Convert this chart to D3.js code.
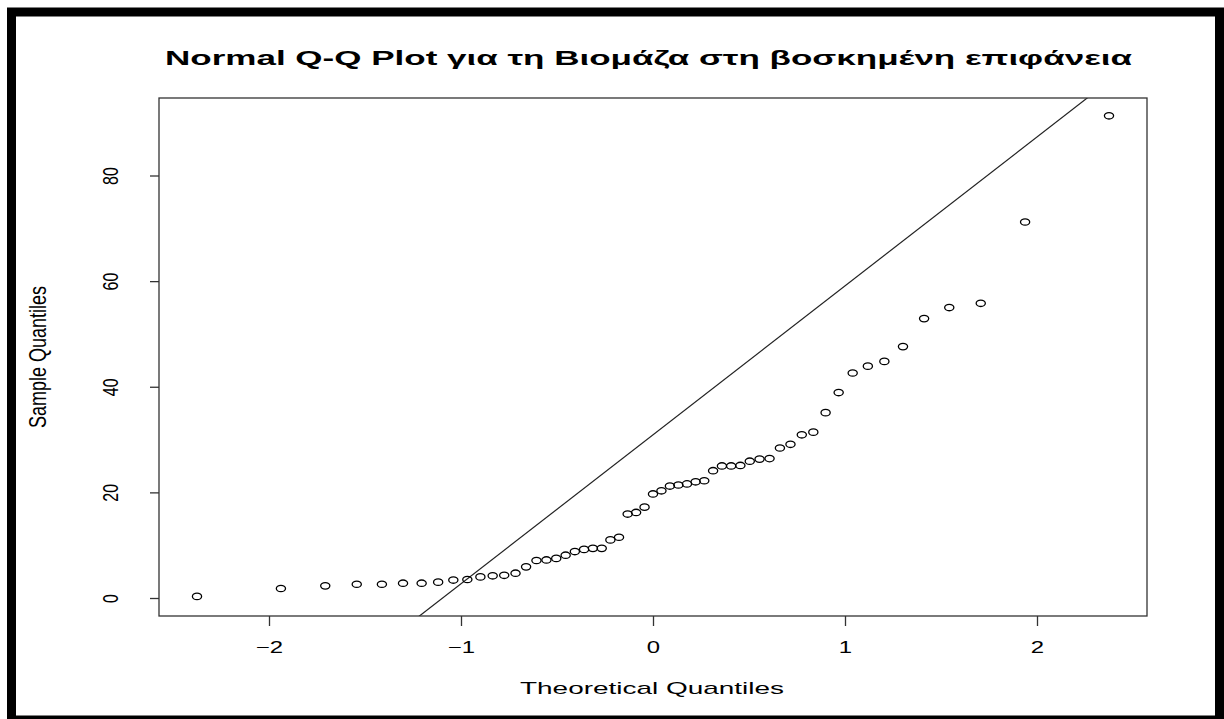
<!DOCTYPE html>
<html lang="el">
<head>
<meta charset="utf-8">
<title>Normal Q-Q Plot</title>
<script src="https://cdn.jsdelivr.net/npm/d3@7"></script>
<style>
  body { margin: 0; background: #fff; }
  text { font-family: "Liberation Sans", Arial, sans-serif; fill: #000; }
</style>
</head>
<body>
<script>
// values
var theoretical = [-2.375, -1.938, -1.707, -1.543, -1.412, -1.302, -1.205, -1.119, -1.040, -0.967,
  -0.899, -0.835, -0.775, -0.716, -0.661, -0.607, -0.555, -0.504, -0.455, -0.407,
  -0.359, -0.313, -0.267, -0.222, -0.177, -0.132, -0.088, -0.044, 0,
  0.044, 0.088, 0.132, 0.177, 0.222, 0.267, 0.313, 0.359, 0.407, 0.455,
  0.504, 0.555, 0.607, 0.661, 0.716, 0.775, 0.835, 0.899, 0.967, 1.040,
  1.119, 1.205, 1.302, 1.412, 1.543, 1.707, 1.938, 2.375];
var sample = [0.3, 1.8, 2.3, 2.6, 2.6, 2.8, 2.8, 3.0, 3.4, 3.5,
  4.0, 4.2, 4.3, 4.7, 5.9, 7.1, 7.2, 7.5, 8.1, 8.8,
  9.2, 9.4, 9.4, 11.0, 11.5, 15.9, 16.2, 17.2, 19.7,
  20.3, 21.2, 21.4, 21.6, 22.0, 22.2, 24.1, 25.0, 25.0, 25.1,
  25.9, 26.3, 26.4, 28.4, 29.1, 30.9, 31.4, 35.1, 38.9, 42.6,
  43.9, 44.8, 47.6, 52.9, 55.0, 55.8, 71.2, 91.3];
var xTicks = [-2, -1, 0, 1, 2];
var yTicks = [0, 20, 40, 60, 80];
var lineIntercept = 30.9;
var lineSlope = 28.2;

var title = "Normal Q-Q Plot για τη Βιομάζα στη βοσκημένη επιφάνεια";
var xTitle = "Theoretical Quantiles";
var yTitle = "Sample Quantiles";

var w = 1224, h = 719;
var box = {left: 159, top: 98, right: 1147, bottom: 616};

var svg = d3.select("body").append("svg")
  .attr("width", w)
  .attr("height", h);

svg.append("rect")
  .attr("width", w).attr("height", h)
  .attr("fill", "#fff");

// thick frame around the picture
svg.append("rect")
  .attr("x", 11.5).attr("y", 12)
  .attr("width", 1208).attr("height", 708)
  .attr("fill", "none")
  .attr("stroke", "#000")
  .attr("stroke-width", 9);

var x = d3.scaleLinear().domain([-2, 2]).range([269, 1037]);
var y = d3.scaleLinear().domain([0, 80]).range([598, 175.5]);

svg.append("clipPath").attr("id", "plotclip")
  .append("rect")
  .attr("x", box.left).attr("y", box.top)
  .attr("width", box.right - box.left)
  .attr("height", box.bottom - box.top);

// reference line
var x0 = x.invert(box.left), x1 = x.invert(box.right);
svg.append("line")
  .attr("clip-path", "url(#plotclip)")
  .attr("x1", x(x0)).attr("y1", y(lineIntercept + lineSlope * x0))
  .attr("x2", x(x1)).attr("y2", y(lineIntercept + lineSlope * x1))
  .attr("stroke", "#222")
  .attr("stroke-width", 1.2);

// points
svg.selectAll("ellipse.pt")
  .data(theoretical)
  .enter()
  .append("ellipse")
  .attr("class", "pt")
  .attr("cx", function(d) { return x(d); })
  .attr("cy", function(d, i) { return y(sample[i]); })
  .attr("rx", 4.6)
  .attr("ry", 3.2)
  .attr("fill", "none")
  .attr("stroke", "#000")
  .attr("stroke-width", 1.3);

// plot box
svg.append("rect")
  .attr("x", box.left).attr("y", box.top)
  .attr("width", box.right - box.left)
  .attr("height", box.bottom - box.top)
  .attr("fill", "none")
  .attr("stroke", "#333")
  .attr("stroke-width", 1.3);

// x axis
var xAxis = svg.append("g")
  .attr("transform", "translate(0," + box.bottom + ")")
  .call(d3.axisBottom(x).tickValues(xTicks).tickSize(10)
    .tickFormat(function(d) { return d < 0 ? "\u2212" + Math.abs(d) : d; }));
xAxis.select(".domain").remove();
xAxis.selectAll(".tick line").attr("stroke", "#333").attr("stroke-width", 1.3);
xAxis.selectAll(".tick text")
  .attr("y", 37).attr("dy", 0)
  .attr("font-size", 16.5)
  .attr("transform", "scale(1.45,1)");

// y axis
var yAxis = svg.append("g")
  .attr("transform", "translate(" + box.left + ",0)")
  .call(d3.axisLeft(y).tickValues(yTicks).tickSize(9));
yAxis.select(".domain").remove();
yAxis.selectAll(".tick line").attr("stroke", "#333").attr("stroke-width", 1.3);
yAxis.selectAll(".tick text")
  .attr("x", 0).attr("y", 0).attr("dy", 0)
  .attr("text-anchor", "middle")
  .attr("font-size", 16)
  .attr("transform", "translate(-41,0) scale(1.35,1) rotate(-90)");

// titles
svg.append("text")
  .attr("x", 648.5).attr("y", 65)
  .attr("text-anchor", "middle")
  .attr("font-size", 21)
  .attr("font-weight", "bold")
  .attr("textLength", 967)
  .attr("lengthAdjust", "spacingAndGlyphs")
  .text(title);

svg.append("text")
  .attr("x", 652).attr("y", 694)
  .attr("text-anchor", "middle")
  .attr("font-size", 17)
  .attr("textLength", 264)
  .attr("lengthAdjust", "spacingAndGlyphs")
  .text(xTitle);

svg.append("text")
  .attr("text-anchor", "middle")
  .attr("font-size", 18)
  .attr("transform", "translate(46,357) scale(1.35,1) rotate(-90)")
  .text(yTitle);
</script>
</body>
</html>
